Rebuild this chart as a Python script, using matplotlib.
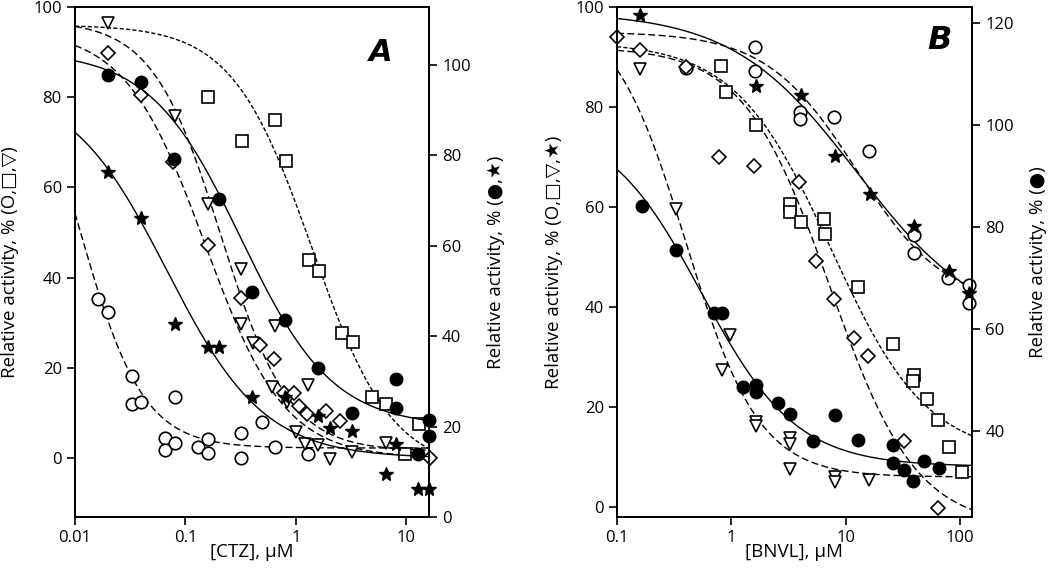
import matplotlib
matplotlib.use('Agg')
import matplotlib.pyplot as plt
import matplotlib.ticker as mticker
import numpy as np

plt.rcParams['font.family'] = ['Open Sans', 'DejaVu Sans']
plt.rcParams['font.size'] = 13.5

# ---- Panel A: CTZ, left axis (O, squares, triangles, diamonds) ----
ctz_circ_x = [0.0163, 0.020, 0.0326, 0.0326, 0.040, 0.080, 0.065, 0.065, 0.080, 0.131,
              0.161, 0.161, 0.318, 0.318, 0.49, 0.646, 1.29]
ctz_circ_y = [35.3, 32.3, 18.2, 12.0, 12.5, 13.6, 4.4, 1.8, 3.3, 2.4,
              4.2, 1.0, 5.6, 0.0, 7.9, 2.4, 0.9]
ctz_sq_x = [0.161, 0.322, 0.646, 0.813, 1.32, 1.62, 2.59, 3.26, 4.9, 6.48, 13.1, 9.8]
ctz_sq_y = [80.1, 70.2, 74.9, 65.8, 43.8, 41.4, 27.6, 25.8, 13.5, 11.9, 7.6, 0.8]
ctz_tri_x = [0.0198, 0.080, 0.159, 0.318, 0.318, 0.41, 0.646, 0.603, 0.822, 1.29,
             1.01, 1.20, 1.59, 2.03, 3.19, 6.48]
ctz_tri_y = [96.4, 75.9, 56.4, 41.8, 29.8, 25.5, 29.2, 15.7, 12.5, 16.2,
             5.8, 3.1, 2.9, -0.3, 1.4, 3.4]
ctz_dia_x = [0.0198, 0.0396, 0.0776, 0.159, 0.318, 0.472, 0.637, 0.78, 0.96, 1.07,
             1.26, 1.89, 2.5, 16.3]
ctz_dia_y = [89.8, 80.4, 65.7, 47.3, 35.5, 25.1, 21.9, 14.5, 14.4, 11.6,
             9.8, 10.3, 8.1, -0.1]
# right axis (filled circles, stars)
ctz_dot_x = [0.0198, 0.0396, 0.079, 0.201, 0.397, 0.794, 1.59, 3.19, 8.04, 8.04, 12.8, 16.1, 16.1]
ctz_dot_y = [97.8, 96.1, 79.1, 70.4, 49.8, 43.6, 32.9, 23.1, 30.5, 24.2, 13.9, 21.5, 18.0]
ctz_star_x = [0.020, 0.0396, 0.080, 0.161, 0.201, 0.397, 0.794, 1.59, 2.03, 3.19,
              8.04, 6.52, 12.8, 16.1]
ctz_star_y = [76.4, 66.2, 42.7, 37.5, 37.5, 26.5, 26.6, 22.4, 19.6, 19.0,
              16.1, 9.5, 6.1, 6.1]

# fitted curve parameters: top, bottom, EC50, Hill slope
fit_ctz_circ = [100, 2.2, 0.0109, 1.5]
fit_ctz_sq = [96, -3, 1.4, 1.2]
fit_ctz_tri = [97, 1.5, 0.21, 1.4]
fit_ctz_dia = [95, 0, 0.15, 1.2]
fit_ctz_dot = [103, 20, 0.32, 1.05]
fit_ctz_star = [96, 13, 0.068, 0.985]

# ---- Panel B: BNVL, left axis (O, squares, triangles, diamonds, stars) ----
bnvl_circ_x = [0.40, 1.61, 1.61, 3.99, 3.99, 7.96, 16.0, 39.9, 39.9, 79.3, 120.8, 120.8]
bnvl_circ_y = [87.7, 91.9, 87.1, 78.9, 77.6, 77.9, 71.1, 54.4, 50.7, 45.7, 44.4, 40.7]
bnvl_sq_x = [0.813, 0.90, 1.64, 3.27, 3.27, 4.05, 6.52, 6.6, 12.8, 25.8, 39.9, 38.6,
             51.9, 64.7, 80.7, 103.8]
bnvl_sq_y = [88.1, 82.9, 76.4, 60.6, 58.9, 56.9, 57.6, 54.6, 43.9, 32.5, 26.3, 25.1,
             21.6, 17.5, 12.1, 7.1]
bnvl_tri_x = [0.159, 0.327, 0.824, 0.975, 1.63, 1.63, 3.27, 3.27, 3.27, 8.07, 8.07, 16.1]
bnvl_tri_y = [87.5, 59.6, 27.4, 34.4, 17.1, 16.2, 13.9, 12.6, 7.6, 6.1, 5.1, 5.5]
bnvl_dia_x = [0.1, 0.16, 0.40, 0.785, 1.59, 3.94, 5.5, 7.93, 11.9, 15.8, 32.4, 64.0]
bnvl_dia_y = [93.9, 91.3, 87.9, 69.9, 68.2, 64.9, 49.1, 41.5, 33.7, 30.2, 13.3, -0.1]
bnvl_star_x = [0.159, 1.64, 4.05, 8.07, 16.3, 39.9, 80.7, 120.8]
bnvl_star_y = [98.4, 84.2, 82.4, 70.2, 62.5, 56.1, 47.1, 42.7]
# right axis (filled circles)
bnvl_dot_x = [0.164, 0.327, 0.706, 0.834, 1.27, 1.64, 1.64, 2.58, 3.27, 5.22, 8.07, 12.8,
              25.8, 25.8, 32.4, 38.6, 48.5, 65.6]
bnvl_dot_y = [84.1, 75.4, 63.1, 63.1, 48.6, 49.0, 47.7, 45.4, 43.3, 38.1, 43.1, 38.2,
              37.3, 33.7, 32.4, 30.1, 34.0, 32.8]

fit_bnvl_circ = [95, 40, 12.4, 1.1]
fit_bnvl_sq = [93, 10, 7.5, 1.03]
fit_bnvl_tri = [100, 6, 0.40, 1.35]
fit_bnvl_dia = [92, -4, 7.3, 1.15]
fit_bnvl_star = [99, 35, 12.5, 0.8]
fit_bnvl_dot = [101, 33, 0.55, 1.05]


def hill(x, p):
    top, bottom, ec50, h = p
    return bottom + (top - bottom) / (1 + (x / ec50) ** h)


DASH = (0, (5, 2.5))
FINE = (0, (3, 1.6))
open_kw = dict(linestyle='none', mfc='white', mec='black', mew=1.2, clip_on=False, zorder=5)
fill_kw = dict(linestyle='none', color='black', clip_on=False, zorder=5)


def style_axes(ax, ax2, xticks, xlabels):
    ax.set_xscale('log')
    ax.set_xticks(xticks)
    ax.set_xticklabels(xlabels)
    ax.xaxis.set_minor_locator(mticker.NullLocator())
    ax.tick_params(direction='out', length=6, width=1.2, labelsize=12)
    ax2.tick_params(direction='out', length=6, width=1.2, labelsize=12)
    for sp in list(ax.spines.values()) + list(ax2.spines.values()):
        sp.set_linewidth(1.4)


fig = plt.figure(figsize=(10.5, 5.85), dpi=100)

# ---------------- Panel A ----------------
axA = fig.add_axes([0.0714, 0.1162, 0.3371, 0.872])
axA2 = axA.twinx()
xa = np.logspace(-2, np.log10(16), 300)
axA.plot(xa, hill(xa, fit_ctz_circ), 'k', ls=DASH, lw=1.0)
axA.plot(xa, hill(xa, fit_ctz_sq), 'k', ls=FINE, lw=1.0)
axA.plot(xa, hill(xa, fit_ctz_tri), 'k', ls=DASH, lw=1.0)
axA.plot(xa, hill(xa, fit_ctz_dia), 'k', ls=DASH, lw=1.0)
axA2.plot(xa, hill(xa, fit_ctz_dot), 'k-', lw=1.0)
axA2.plot(xa, hill(xa, fit_ctz_star), 'k-', lw=1.0)

axA.plot(ctz_circ_x, ctz_circ_y, marker='o', ms=9, **open_kw)
axA.plot(ctz_sq_x, ctz_sq_y, marker='s', ms=8, **open_kw)
axA.plot(ctz_tri_x, ctz_tri_y, marker='v', ms=9, **open_kw)
axA.plot(ctz_dia_x, ctz_dia_y, marker='D', ms=7, **open_kw)
axA2.plot(ctz_dot_x, ctz_dot_y, marker='o', ms=9, **fill_kw)
axA2.plot(ctz_star_x, ctz_star_y, marker='*', ms=10, **fill_kw)

style_axes(axA, axA2, [0.01, 0.1, 1, 10], ['0.01', '0.1', '1', '10'])
axA.set_xlim(0.01, 16)
axA.set_ylim(-13.1, 100)
axA2.set_ylim(0, 112.8)
axA.set_yticks([0, 20, 40, 60, 80, 100])
axA2.set_yticks([0, 20, 40, 60, 80, 100])
axA.set_xlabel('[CTZ], µM', labelpad=-2)
axA.set_ylabel('Relative activity, % (O,□,▽)', labelpad=10)
axA2.set_ylabel('Relative activity, % (●,★)', labelpad=12)
axA.text(0.898, 0.91, 'A', transform=axA.transAxes, fontsize=22, fontweight='bold',
         fontstyle='italic', ha='right', va='center', family='DejaVu Sans')

# ---------------- Panel B ----------------
axB = fig.add_axes([0.5876, 0.1162, 0.3381, 0.872])
axB2 = axB.twinx()
xb = np.logspace(-1, np.log10(127.6), 300)
axB.plot(xb, hill(xb, fit_bnvl_circ), 'k', ls=DASH, lw=1.0)
axB.plot(xb, hill(xb, fit_bnvl_sq), 'k', ls=FINE, lw=1.0)
axB.plot(xb, hill(xb, fit_bnvl_tri), 'k', ls=DASH, lw=1.0)
axB.plot(xb, hill(xb, fit_bnvl_dia), 'k', ls=DASH, lw=1.0)
axB.plot(xb, hill(xb, fit_bnvl_star), 'k-', lw=1.0)
axB2.plot(xb, hill(xb, fit_bnvl_dot), 'k-', lw=1.0)

axB.plot(bnvl_circ_x, bnvl_circ_y, marker='o', ms=9, **open_kw)
axB.plot(bnvl_sq_x, bnvl_sq_y, marker='s', ms=8, **open_kw)
axB.plot(bnvl_tri_x, bnvl_tri_y, marker='v', ms=9, **open_kw)
axB.plot(bnvl_dia_x, bnvl_dia_y, marker='D', ms=7, **open_kw)
axB.plot(bnvl_star_x, bnvl_star_y, marker='*', ms=10, **fill_kw)
axB2.plot(bnvl_dot_x, bnvl_dot_y, marker='o', ms=9, **fill_kw)

style_axes(axB, axB2, [0.1, 1, 10, 100], ['0.1', '1', '10', '100'])
axB.set_xlim(0.1, 127.6)
axB.set_ylim(-2, 100)
axB2.set_ylim(23.1, 123.1)
axB.set_yticks([0, 20, 40, 60, 80, 100])
axB2.set_yticks([40, 60, 80, 100, 120])
axB.set_xlabel('[BNVL], µM', labelpad=-2)
axB.set_ylabel('Relative activity, % (O,□,▽,★)', labelpad=8.5)
axB2.set_ylabel('Relative activity, % (●)', labelpad=11)
axB.text(0.944, 0.935, 'B', transform=axB.transAxes, fontsize=23, fontweight='bold',
         fontstyle='italic', ha='right', va='center', family='DejaVu Sans')

fig.savefig('out.png', dpi=100)
